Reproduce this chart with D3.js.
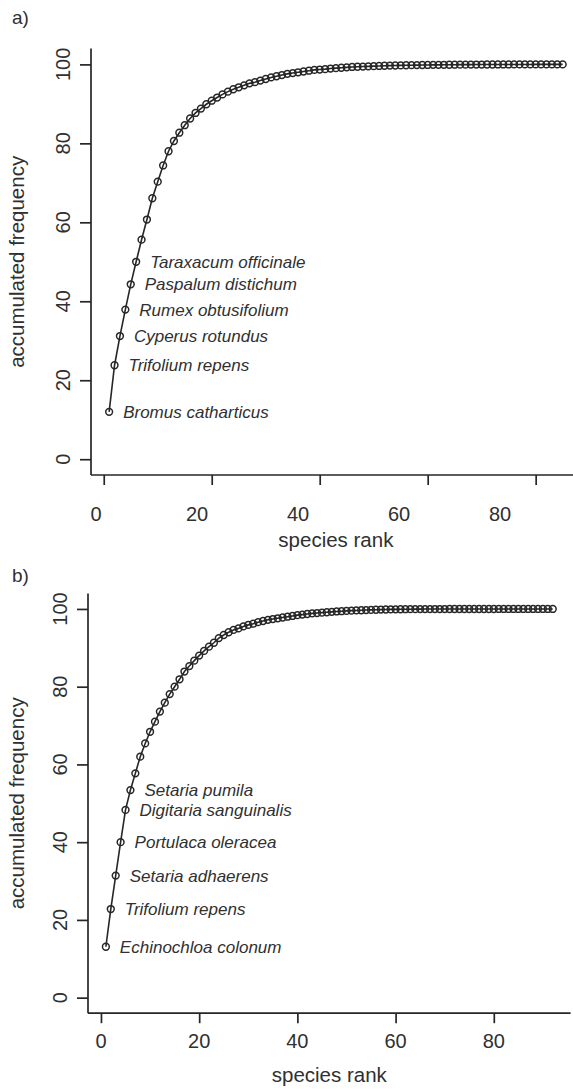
<!DOCTYPE html>
<html>
<head>
<meta charset="utf-8">
<script src="https://cdn.jsdelivr.net/npm/d3@7"></script>
<style>
  body { margin: 0; background: #fff; }
  svg { display: block; font-family: "Liberation Sans", Arial, Helvetica, sans-serif; }
</style>
</head>
<body>
<svg id="chart" width="573" height="1090"></svg>
<script>
// Accumulated frequency (%) by species rank, panel a
const freqA = [
  12.0, 23.8, 31.2, 37.9, 44.3, 50.0, 55.6, 60.7, 66.1, 70.3,
  74.4, 78.0, 80.6, 82.7, 84.6, 86.3, 87.7, 88.8, 89.9, 90.8,
  91.6, 92.4, 93.1, 93.7, 94.2, 94.7, 95.2, 95.5, 95.9, 96.3,
  96.7, 97.0, 97.3, 97.6, 97.8, 98.0, 98.2, 98.4, 98.6, 98.7,
  98.8, 98.95, 99.05, 99.15, 99.25, 99.35, 99.4, 99.45, 99.5, 99.55,
  99.6, 99.65, 99.7, 99.72, 99.75, 99.78, 99.8, 99.82, 99.84, 99.86,
  99.88, 99.89, 99.9, 99.91, 99.92, 99.93, 99.94, 99.95, 99.96, 99.96,
  99.97, 99.97, 99.98, 99.98, 99.98, 99.99, 99.99, 99.99, 99.99, 100,
  100, 100, 100, 100, 100
];
const namesA = [
  "Bromus catharticus", "Trifolium repens", "Cyperus rotundus",
  "Rumex obtusifolium", "Paspalum distichum", "Taraxacum officinale"
];

// Accumulated frequency (%) by species rank, panel b
const freqB = [
  13.1, 22.8, 31.4, 40.0, 48.3, 53.4, 57.7, 62.0, 65.4, 68.4,
  71.0, 73.6, 75.9, 78.1, 80.0, 81.9, 83.9, 85.3, 86.7, 88.0,
  89.2, 90.3, 91.3, 92.5, 93.3, 94.0, 94.6, 95.0, 95.5, 95.9,
  96.2, 96.6, 96.9, 97.2, 97.4, 97.6, 97.8, 98.0, 98.2, 98.4,
  98.55, 98.7, 98.85, 98.95, 99.05, 99.15, 99.25, 99.35, 99.42, 99.5,
  99.56, 99.62, 99.67, 99.72, 99.76, 99.8, 99.83, 99.86, 99.88, 99.9,
  99.92, 99.93, 99.94, 99.95, 99.96, 99.97, 99.97, 99.98, 99.98, 99.98,
  99.99, 99.99, 99.99, 99.99, 99.99, 99.99, 99.99, 99.99, 99.99, 99.99,
  100, 100, 100, 100, 100, 100, 100, 100, 100, 100,
  100, 100
];
const namesB = [
  "Echinochloa colonum", "Trifolium repens", "Setaria adhaerens",
  "Portulaca oleracea", "Digitaria sanguinalis", "Setaria pumila"
];

const xTicks = [0, 20, 40, 60, 80];
const yTicks = [0, 20, 40, 60, 80, 100];
const panelTags = ["a)", "b)"];
const xTitle = "species rank";
const yTitle = "accumulated frequency";

// Page layout for the two stacked panels
const panels = [
  { tag: panelTags[0], values: freqA, names: namesA,
    left: 91, right: 580.8, top: 48.6, bottom: 475,
    tagY: 24, xLabY: 520.7, xTitleY: 547, yLabX: 70, yTitleX: 24,
    labelRange: [96, 500] },   // tick labels in panel a are spaced a little tighter than the ticks
  { tag: panelTags[1], values: freqB, names: namesB,
    left: 88, right: 570.6, top: 593.4, bottom: 1013.2,
    tagY: 582, xLabY: 1048, xTitleY: 1082, yLabX: 67, yTitleX: 24,
    labelRange: null }
];

const ink = "#262626";
const textInk = "#303030";
const svg = d3.select("#chart");

panels.forEach(p => {
  const n = p.values.length;
  const pad = 0.04 * (n - 1);
  const x = d3.scaleLinear().domain([1 - pad, n + pad]).range([p.left, p.right]);
  const y = d3.scaleLinear().domain([-4, 104]).range([p.bottom, p.top]);
  const g = svg.append("g");

  // L-shaped frame
  g.append("line").attr("x1", p.left).attr("x2", p.left)
    .attr("y1", p.top).attr("y2", p.bottom)
    .attr("stroke", ink).attr("stroke-width", 1.7);
  g.append("line").attr("x1", p.left).attr("x2", p.right)
    .attr("y1", p.bottom).attr("y2", p.bottom)
    .attr("stroke", ink).attr("stroke-width", 1.7);

  // x ticks
  const xAxis = g.append("g").attr("transform", `translate(0,${p.bottom})`)
    .call(d3.axisBottom(x).tickValues(xTicks).tickSize(10).tickFormat(""));
  xAxis.select(".domain").remove();
  xAxis.selectAll(".tick line").attr("stroke", ink).attr("stroke-width", 1.7);

  const xLab = p.labelRange
    ? d3.scaleLinear().domain([xTicks[0], xTicks[xTicks.length - 1]]).range(p.labelRange)
    : x;
  g.selectAll(".xlab").data(xTicks).join("text")
    .attr("x", d => xLab(d)).attr("y", p.xLabY)
    .attr("text-anchor", "middle").attr("font-size", 20).attr("fill", textInk)
    .text(d => d);

  // y ticks
  const yAxis = g.append("g").attr("transform", `translate(${p.left},0)`)
    .call(d3.axisLeft(y).tickValues(yTicks).tickSize(11).tickFormat(""));
  yAxis.select(".domain").remove();
  yAxis.selectAll(".tick line").attr("stroke", ink).attr("stroke-width", 1.7);

  g.selectAll(".ylab").data(yTicks).join("text")
    .attr("transform", d => `translate(${p.yLabX},${y(d)}) rotate(-90)`)
    .attr("text-anchor", "middle").attr("font-size", 20).attr("fill", textInk)
    .text(d => d);

  // axis titles
  g.append("text")
    .attr("x", (p.left + p.right) / 2).attr("y", p.xTitleY)
    .attr("text-anchor", "middle").attr("font-size", 20.5).attr("fill", textInk)
    .text(xTitle);
  g.append("text")
    .attr("transform", `translate(${p.yTitleX},${(p.top + p.bottom) / 2}) rotate(-90)`)
    .attr("text-anchor", "middle").attr("font-size", 20.5).attr("fill", textInk)
    .text(yTitle);

  // panel tag
  g.append("text").attr("x", 12).attr("y", p.tagY)
    .attr("font-size", 19).attr("fill", textInk).text(p.tag);

  // curve with open circles
  const pts = p.values.map((v, i) => ({ rank: i + 1, v }));
  g.append("path").datum(pts)
    .attr("fill", "none").attr("stroke", ink).attr("stroke-width", 1.6)
    .attr("d", d3.line().x(d => x(d.rank)).y(d => y(d.v)));
  g.selectAll(".pt").data(pts).join("circle")
    .attr("cx", d => x(d.rank)).attr("cy", d => y(d.v)).attr("r", 3.4)
    .attr("fill", "none").attr("stroke", ink).attr("stroke-width", 1.5);

  // species names beside the leading ranks
  g.selectAll(".sp").data(p.names).join("text")
    .attr("x", (d, i) => x(i + 1) + 14)
    .attr("y", (d, i) => y(p.values[i]))
    .attr("dy", "0.35em")
    .attr("font-size", 17).attr("font-style", "italic").attr("fill", textInk)
    .text(d => d);
});
</script>
</body>
</html>
